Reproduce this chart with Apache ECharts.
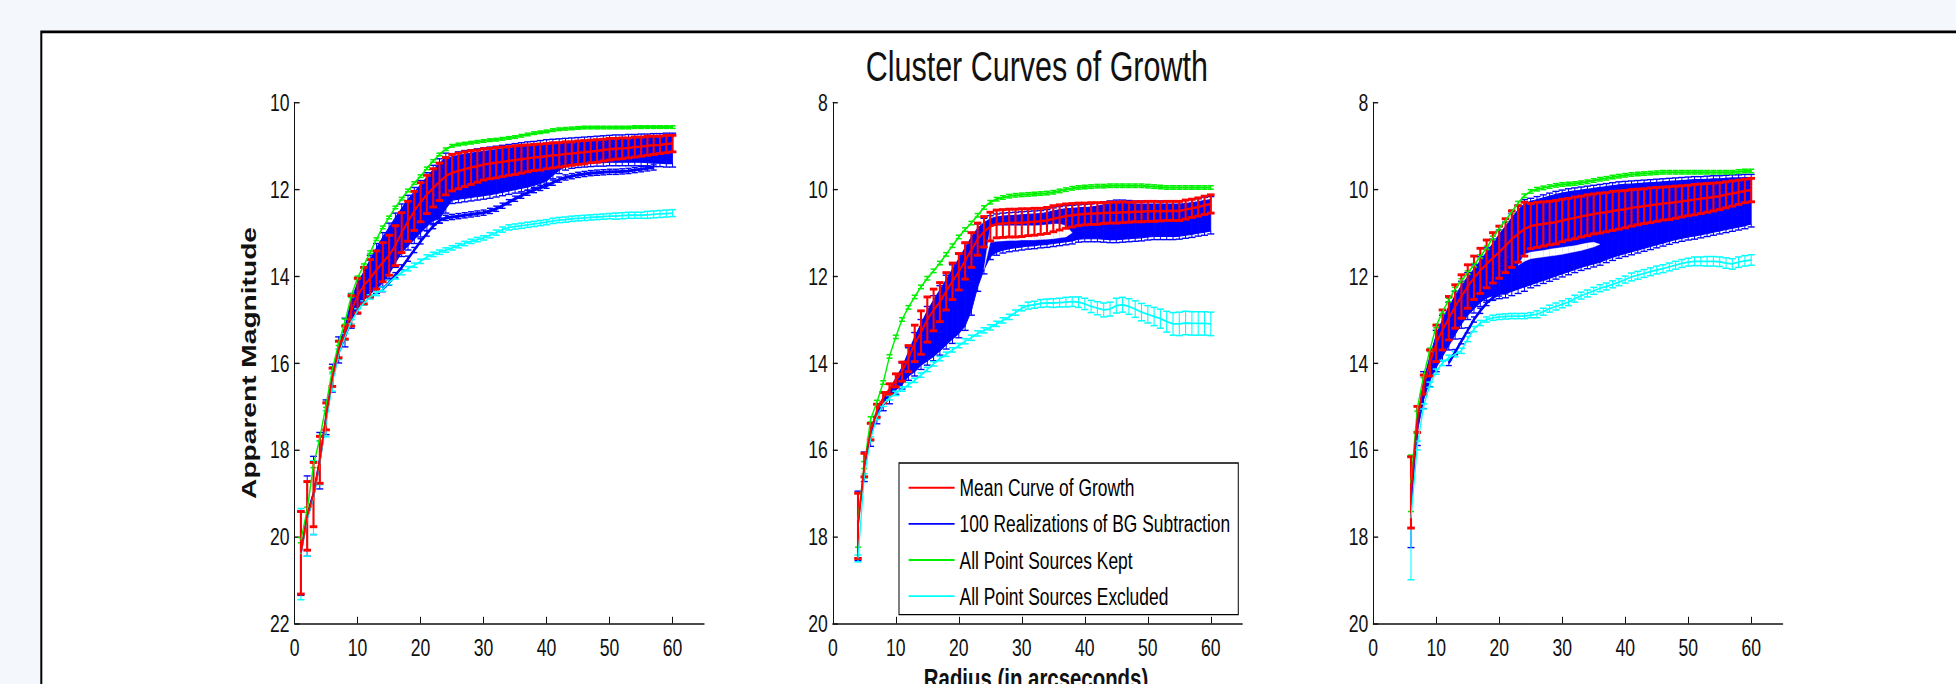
<!DOCTYPE html>
<html><head><meta charset="utf-8">
<script src="https://cdn.jsdelivr.net/npm/echarts@6/dist/echarts.min.js"></script>
<style>
html,body{margin:0;padding:0;background:#f4f7fb;overflow:hidden;width:1956px;height:684px;}
#c{width:1956px;height:496px;transform:scaleY(1.379032);transform-origin:0 0;}
</style></head><body><div id="c"></div>
<script>
// ---------------- DATA ----------------
const X_TICKS = [0,10,20,30,40,50,60];

// Panel 1
const P1_R = [1,2,3,4,5,6,7,8,9,10,11,12,13,14,15,16,17,18,19,20,21,22,23,24,25,26,27,28,29,30,31,32,33,34,35,36,37,38,39,40,41,42,43,44,45,46,47,48,49,50,51,52,53,54,55,56,57,58,59,60];
const P1_MEAN = [20.37,19.52,19.03,18.23,17.23,16.33,15.69,15.3,14.8,14.45,14.22,14.05,13.86,13.68,13.52,13.3,13.0,12.74,12.5,12.3,12.12,11.97,11.83,11.7,11.62,11.58,11.54,11.5,11.47,11.43,11.41,11.39,11.37,11.35,11.33,11.31,11.29,11.27,11.26,11.24,11.22,11.21,11.19,11.18,11.16,11.15,11.13,11.12,11.1,11.08,11.07,11.06,11.05,11.03,11.02,11.0,10.99,10.98,10.96,10.95];
const P1_ERR = [.95,.79,.74,.54,.31,.21,.19,.15,.35,.4,.42,.43,.44,.45,.46,.46,.46,.46,.45,.45,.44,.44,.43,.43,.42,.41,.4,.39,.37,.36,.35,.35,.34,.33,.33,.32,.31,.3,.3,.29,.29,.28,.28,.27,.27,.27,.26,.26,.25,.25,.24,.24,.23,.23,.22,.22,.21,.2,.2,.19];
const P1_GREEN = [20.08,19.38,18.35,17.73,16.96,16.15,15.54,15.05,14.45,14.04,13.75,13.45,13.15,12.88,12.65,12.42,12.22,12.03,11.86,11.7,11.52,11.35,11.2,11.08,11.0,10.97,10.95,10.93,10.91,10.89,10.87,10.86,10.84,10.82,10.8,10.77,10.74,10.71,10.69,10.67,10.64,10.62,10.61,10.6,10.59,10.58,10.58,10.58,10.58,10.58,10.58,10.58,10.58,10.57,10.57,10.57,10.57,10.57,10.57,10.57];
const P1_GREEN_ERR = [.06,.06,.06,.06,.06,.06,.06,.06,.04,.04,.03,.03,.03,.03,.03,.03,.03,.03,.03,.03,.03,.03,.03,.03,.03,.03,.03,.03,.03,.03,.03,.03,.03,.03,.03,.03,.03,.03,.03,.03,.03,.03,.03,.03,.03,.03,.03,.03,.03,.03,.03,.03,.03,.03,.03,.03,.03,.03,.03,.03];
const P1_CYAN = [20.4,19.6,19.1,18.3,17.4,16.45,15.8,15.4,15.05,14.8,14.62,14.48,14.4,14.3,14.15,14.02,13.92,13.83,13.75,13.66,13.56,13.5,13.45,13.4,13.35,13.3,13.25,13.2,13.16,13.12,13.06,13.0,12.93,12.88,12.86,12.84,12.82,12.8,12.78,12.76,12.73,12.71,12.7,12.68,12.67,12.66,12.65,12.64,12.63,12.62,12.62,12.61,12.6,12.6,12.6,12.59,12.58,12.57,12.56,12.55];
const P1_CYAN_ERR = [1.05,.85,.85,.5,.3,.2,.12,.08,.05,.05,.05,.05,.05,.05,.05,.05,.05,.05,.05,.05,.05,.05,.05,.05,.05,.05,.05,.05,.05,.05,.06,.06,.06,.06,.06,.06,.06,.06,.06,.06,.06,.06,.06,.06,.06,.06,.06,.06,.06,.06,.07,.07,.07,.07,.07,.08,.08,.08,.08,.08];
const P1_BLUE_TOP = [20.3,19.45,18.95,18.15,17.15,16.25,15.6,15.15,14.55,14.15,13.9,13.62,13.35,13.1,12.88,12.65,12.44,12.24,12.06,11.9,11.72,11.55,11.4,11.27,11.26,11.22,11.19,11.17,11.15,11.13,11.11,11.09,11.07,11.05,11.03,11.01,10.99,10.98,10.96,10.94,10.93,10.92,10.91,10.9,10.89,10.88,10.87,10.86,10.85,10.84,10.83,10.83,10.82,10.82,10.81,10.81,10.8,10.8,10.79,10.79];
const P1_BLUE_BOT = [20.45,19.6,19.15,18.35,17.35,16.45,15.8,15.45,15.05,14.75,14.55,14.4,14.3,14.15,13.95,13.7,13.45,13.3,13.15,13.0,12.85,12.72,12.68,12.45,12.25,12.23,12.21,12.19,12.17,12.15,12.13,12.1,12.07,12.04,12.01,11.98,11.95,11.91,11.87,11.81,11.68,11.56,11.48,11.44,11.42,11.41,11.4,11.39,11.39,11.38,11.38,11.38,11.38,11.38,11.38,11.39,11.4,11.4,11.41,11.41];
const P1_BLUE_ERR = [.9,.85,.8,.55,.3,.22,.2,.18,.15,.12,.1,.1,.1,.1,.1,.1,.1,.1,.1,.1,.1,.1,.1,.1,.08,.08,.08,.08,.08,.08,.08,.08,.08,.08,.08,.08,.08,.08,.08,.08,.08,.08,.08,.08,.08,.08,.08,.08,.08,.08,.08,.08,.08,.08,.08,.08,.08,.08,.08,.08];
const P1_GAP_TOP = [null,null,null,null,null,null,null,null,null,null,null,null,null,null,null,null,null,null,null,null,null,null,null,null,null,null,null,null,null,null,null,null,null,null,null,null,null,null,null,null,null,null,null,null,null,null,null,null,null,null,null,null,null,null,null,null,null,null,null,null];
const P1_GAP_BOT = P1_GAP_TOP;
const P1_OUTLIER = [null,null,null,null,null,null,null,null,null,null,null,null,null,14.3,14.15,13.98,13.8,13.6,13.4,13.2,13.02,12.85,12.72,12.66,12.64,12.62,12.6,12.58,12.56,12.54,12.5,12.45,12.38,12.3,12.22,12.15,12.08,12.02,11.97,11.92,11.85,11.78,11.73,11.7,11.67,11.65,11.63,11.62,11.61,11.6,11.6,11.59,11.58,11.56,11.54,11.52,11.5,null,null,null];

// Panel 2
const P2_R = [4,5,6,7,8,9,10,11,12,13,14,15,16,17,18,19,20,21,22,23,24,25,26,27,28,29,30,31,32,33,34,35,36,37,38,39,40,41,42,43,44,45,46,47,48,49,50,51,52,53,54,55,56,57,58,59,60];
const P2_MEAN = [17.75,16.35,15.58,15.1,14.8,14.6,14.4,14.2,13.9,13.55,13.3,13.0,12.78,12.6,12.35,12.12,11.9,11.65,11.4,11.15,10.98,10.86,10.8,10.79,10.78,10.78,10.77,10.76,10.75,10.74,10.72,10.68,10.65,10.62,10.6,10.58,10.57,10.56,10.56,10.55,10.54,10.54,10.53,10.53,10.52,10.52,10.51,10.51,10.51,10.5,10.5,10.5,10.47,10.44,10.41,10.37,10.34];
const P2_ERR = [.75,.27,.19,.15,.12,.12,.15,.22,.3,.42,.5,.52,.48,.45,.43,.42,.42,.42,.4,.37,.35,.33,.32,.32,.32,.32,.32,.31,.31,.3,.3,.3,.29,.28,.27,.26,.25,.25,.25,.24,.24,.24,.24,.23,.23,.23,.23,.23,.22,.22,.22,.22,.22,.21,.21,.21,.21];
const P2_GREEN = [17.62,16.35,15.3,14.9,14.45,13.85,13.4,13.0,12.72,12.48,12.25,12.05,11.88,11.7,11.5,11.3,11.1,10.93,10.78,10.6,10.42,10.3,10.23,10.19,10.16,10.14,10.13,10.12,10.11,10.1,10.09,10.07,10.04,10.01,9.98,9.96,9.95,9.94,9.93,9.93,9.92,9.92,9.92,9.92,9.92,9.92,9.93,9.94,9.95,9.96,9.96,9.96,9.96,9.96,9.96,9.96,9.96];
const P2_GREEN_ERR = [.62,.08,.06,.04,.04,.04,.04,.04,.04,.04,.04,.04,.04,.04,.04,.04,.04,.04,.04,.04,.04,.04,.04,.04,.04,.04,.04,.04,.04,.04,.04,.04,.04,.04,.04,.04,.04,.04,.04,.04,.04,.04,.04,.04,.04,.04,.04,.04,.04,.04,.04,.04,.04,.04,.04,.04,.04];
const P2_CYAN = [18.5,16.6,15.75,15.25,14.95,14.8,14.7,14.6,14.5,14.4,14.28,14.15,14.02,13.9,13.8,13.7,13.6,13.5,13.42,13.32,13.25,13.18,13.1,13.02,12.94,12.84,12.74,12.68,12.66,12.63,12.62,12.62,12.61,12.6,12.59,12.6,12.64,12.7,12.74,12.78,12.76,12.68,12.66,12.7,12.76,12.83,12.88,12.93,12.98,13.05,13.1,13.1,13.08,13.09,13.09,13.09,13.1];
const P2_CYAN_ERR = [.08,.05,.05,.05,.05,.05,.05,.05,.05,.05,.05,.05,.05,.05,.05,.05,.05,.06,.06,.06,.06,.06,.06,.06,.06,.06,.06,.08,.08,.09,.09,.1,.1,.11,.11,.12,.13,.14,.15,.16,.16,.17,.17,.18,.19,.2,.2,.21,.22,.24,.26,.27,.27,.27,.27,.27,.27];
const P2_BLUE_TOP = [17.7,16.33,15.58,15.1,14.8,14.6,14.35,14.1,13.75,13.4,13.1,12.8,12.55,12.32,12.08,11.84,11.6,11.35,11.1,10.9,10.77,10.68,10.64,10.62,10.61,10.6,10.59,10.58,10.57,10.56,10.54,10.5,10.47,10.45,10.44,10.43,10.42,10.41,10.39,10.36,10.34,10.32,10.32,10.33,10.34,10.34,10.34,10.34,10.34,10.34,10.34,10.34,10.33,10.31,10.29,10.26,10.24];
const P2_BLUE_BOT = [17.8,16.45,15.72,15.25,14.98,14.82,14.62,14.5,14.3,14.2,14.05,13.95,13.85,13.72,13.58,13.45,13.32,13.15,12.8,12.25,11.85,11.55,11.45,11.4,11.37,11.35,11.33,11.31,11.3,11.28,11.27,11.25,11.23,11.21,11.19,11.15,11.14,11.14,11.14,11.15,11.16,11.16,11.15,11.14,11.13,11.12,11.1,11.09,11.09,11.09,11.09,11.08,11.06,11.04,11.01,10.99,10.96];
const P2_BLUE_ERR = [.75,.28,.2,.15,.12,.12,.1,.1,.1,.1,.1,.1,.1,.1,.1,.1,.1,.1,.1,.1,.1,.07,.07,.07,.07,.07,.07,.07,.07,.07,.07,.07,.07,.07,.07,.07,.07,.07,.07,.07,.07,.07,.07,.07,.07,.07,.07,.07,.07,.07,.07,.07,.07,.07,.07,.07,.07];
const P2_GAP_TOP = [null,null,null,null,null,null,null,null,null,null,null,null,null,null,null,null,null,null,null,null,11.85,10.86,10.84,10.84,10.84,10.84,10.84,10.84,10.84,10.83,10.82,10.8,10.8,10.84,11.0,null,null,null,null,null,null,null,null,null,null,null,null,null,null,null,null,null,null,null,null,null,null];
const P2_GAP_BOT = [null,null,null,null,null,null,null,null,null,null,null,null,null,null,null,null,null,null,null,null,11.85,11.22,11.2,11.19,11.18,11.18,11.17,11.17,11.17,11.16,11.15,11.14,11.12,11.1,11.0,null,null,null,null,null,null,null,null,null,null,null,null,null,null,null,null,null,null,null,null,null,null];
const P2_OUTLIER = [];

// Panel 3
const P3_R = [6,7,8,9,10,11,12,13,14,15,16,17,18,19,20,21,22,23,24,25,26,27,28,29,30,31,32,33,34,35,36,37,38,39,40,41,42,43,44,45,46,47,48,49,50,51,52,53,54,55,56,57,58,59,60];
const P3_MEAN = [16.98,15.3,14.5,14.0,13.55,13.24,12.97,12.7,12.47,12.24,12.04,11.88,11.72,11.58,11.45,11.3,11.15,11.03,10.92,10.85,10.82,10.8,10.78,10.76,10.72,10.69,10.66,10.63,10.6,10.57,10.55,10.53,10.5,10.48,10.46,10.43,10.41,10.39,10.37,10.35,10.33,10.32,10.3,10.28,10.26,10.24,10.22,10.2,10.18,10.16,10.13,10.1,10.07,10.04,10.02];
const P3_ERR = [.82,.3,.22,.3,.42,.46,.5,.5,.5,.5,.5,.52,.55,.58,.6,.62,.65,.65,.62,.52,.52,.51,.5,.5,.49,.48,.48,.47,.47,.46,.46,.45,.45,.44,.43,.42,.41,.4,.4,.39,.38,.38,.37,.36,.35,.35,.34,.33,.32,.31,.3,.29,.28,.27,.27];
const P3_GREEN = [16.77,15.05,14.3,13.7,13.15,12.82,12.55,12.3,12.1,11.92,11.75,11.55,11.35,11.12,10.9,10.72,10.52,10.32,10.15,10.05,10.0,9.97,9.94,9.91,9.89,9.88,9.87,9.85,9.83,9.8,9.77,9.75,9.72,9.7,9.68,9.66,9.65,9.64,9.63,9.62,9.61,9.61,9.61,9.61,9.61,9.61,9.61,9.61,9.61,9.61,9.61,9.61,9.59,9.58,9.58];
const P3_GREEN_ERR = [.65,.06,.04,.04,.04,.04,.04,.04,.04,.04,.04,.04,.04,.04,.04,.04,.04,.04,.04,.04,.04,.04,.04,.04,.04,.04,.04,.04,.04,.04,.04,.04,.04,.04,.04,.04,.04,.04,.04,.04,.04,.04,.04,.04,.04,.04,.04,.04,.04,.04,.04,.04,.04,.04,.04];
const P3_CYAN = [17.57,15.9,15.0,14.5,14.2,14.0,13.88,13.8,13.72,13.45,13.22,13.08,13.0,12.96,12.94,12.93,12.92,12.92,12.92,12.9,12.88,12.82,12.75,12.7,12.65,12.6,12.52,12.45,12.4,12.34,12.28,12.24,12.19,12.14,12.08,12.02,11.98,11.94,11.9,11.86,11.83,11.79,11.75,11.71,11.68,11.66,11.66,11.66,11.66,11.67,11.7,11.72,11.68,11.65,11.63];
const P3_CYAN_ERR = [1.42,.1,.06,.06,.06,.06,.06,.06,.06,.06,.06,.06,.06,.06,.06,.06,.06,.06,.06,.06,.08,.08,.08,.08,.08,.08,.08,.08,.08,.08,.08,.08,.08,.08,.08,.09,.09,.09,.09,.09,.09,.09,.09,.09,.09,.1,.1,.11,.11,.11,.12,.12,.12,.12,.12];
const P3_BLUE_TOP = [17.0,15.3,14.4,13.85,13.35,13.0,12.7,12.45,12.22,12.02,11.84,11.65,11.45,11.25,11.04,10.86,10.66,10.48,10.34,10.28,10.24,10.2,10.16,10.12,10.09,10.06,10.04,10.02,10.0,9.98,9.96,9.94,9.92,9.9,9.89,9.88,9.87,9.86,9.85,9.84,9.83,9.82,9.81,9.8,9.79,9.78,9.78,9.77,9.76,9.76,9.75,9.74,9.74,9.73,9.73];
const P3_BLUE_BOT = [17.4,15.6,14.85,14.4,14.1,13.85,13.6,13.35,13.1,12.9,12.75,12.6,12.5,12.45,12.42,12.4,12.35,12.3,12.25,12.2,12.15,12.1,12.05,12.0,11.95,11.9,11.85,11.8,11.76,11.72,11.68,11.62,11.57,11.52,11.48,11.44,11.4,11.36,11.32,11.28,11.24,11.2,11.16,11.13,11.1,11.08,11.05,11.02,10.99,10.96,10.93,10.9,10.87,10.84,10.8];
const P3_BLUE_ERR = [.85,.3,.2,.15,.1,.1,.1,.1,.1,.1,.1,.1,.1,.1,.1,.1,.1,.1,.1,.07,.07,.07,.07,.07,.07,.07,.07,.07,.07,.07,.07,.07,.07,.07,.07,.07,.07,.07,.07,.07,.07,.07,.07,.07,.07,.07,.07,.07,.07,.07,.07,.07,.07,.07,.07];
const P3_GAP_TOP = [null,null,null,null,null,null,null,null,null,null,null,null,null,null,null,null,null,11.75,11.5,11.45,11.43,11.41,11.38,11.36,11.34,11.32,11.3,11.27,11.24,11.22,11.27,null,null,null,null,null,null,null,null,null,null,null,null,null,null,null,null,null,null,null,null,null,null,null,null];
const P3_GAP_BOT = [null,null,null,null,null,null,null,null,null,null,null,null,null,null,null,null,null,11.75,11.66,11.6,11.58,11.56,11.54,11.52,11.5,11.47,11.44,11.41,11.37,11.33,11.27,null,null,null,null,null,null,null,null,null,null,null,null,null,null,null,null,null,null,null,null,null,null,null,null];
const P3_OUTLIER = [null,null,null,null,null,null,14.0,13.75,13.5,13.25,13.0,12.8,12.62,12.5,12.4,12.35,null,null,null,null,null,null,null,null,null,null,null,null,null,null,null,null,null,null,null,null,null,null,null,null,null,null,null,null,null,null,null,null,null,null,null,null,null,null,null];

const LEGEND_NAMES = ['Mean Curve of Growth','100 Realizations of BG Subtraction','All Point Sources Kept','All Point Sources Excluded'];
const TITLE = 'Cluster Curves of Growth';
const Y_NAME = 'Apparent Magnitude';
const X_NAME = 'Radius (in arcseconds)';

// ---------------- LAYOUT / STYLE ----------------
const FONT = '"Liberation Sans", Arial, Helvetica, sans-serif';
const RED = '#ff0000', BLUE = '#0000ff', GREEN = '#00f000', CYAN = '#00ffff';
const GRID_LEFT = [294.6, 832.8, 1373.2];
const GRID_TOP = 74.2, GRID_W = 409.5, GRID_H = 378;

const PANELS = [
  {R:P1_R, mean:P1_MEAN, err:P1_ERR, green:P1_GREEN, gerr:P1_GREEN_ERR, cyan:P1_CYAN, cerr:P1_CYAN_ERR, bt:P1_BLUE_TOP, bb:P1_BLUE_BOT, be:P1_BLUE_ERR, gt:P1_GAP_TOP, gb:P1_GAP_BOT, out:P1_OUTLIER, ymin:10, ymax:22},
  {R:P2_R, mean:P2_MEAN, err:P2_ERR, green:P2_GREEN, gerr:P2_GREEN_ERR, cyan:P2_CYAN, cerr:P2_CYAN_ERR, bt:P2_BLUE_TOP, bb:P2_BLUE_BOT, be:P2_BLUE_ERR, gt:P2_GAP_TOP, gb:P2_GAP_BOT, out:P2_OUTLIER, ymin:8, ymax:20},
  {R:P3_R, mean:P3_MEAN, err:P3_ERR, green:P3_GREEN, gerr:P3_GREEN_ERR, cyan:P3_CYAN, cerr:P3_CYAN_ERR, bt:P3_BLUE_TOP, bb:P3_BLUE_BOT, be:P3_BLUE_ERR, gt:P3_GAP_TOP, gb:P3_GAP_BOT, out:P3_OUTLIER, ymin:8, ymax:20}
];

PANELS.forEach((P, i) => {
  ['mean','err','green','gerr','cyan','cerr','bt','bb','be','gt','gb'].forEach(k => {
    if (P[k].length !== P.R.length) throw new Error('Panel ' + (i+1) + ' ' + k + ' length ' + P[k].length + ' vs ' + P.R.length);
  });
  if (P.out.length && P.out.length !== P.R.length) throw new Error('Panel ' + (i+1) + ' outlier length');
});

function errBar(color, lw, cap) {
  return function (params, api) {
    const x = api.value(0);
    const p = api.coord([x, api.value(1)]), q = api.coord([x, api.value(2)]);
    const st = {stroke: color, lineWidth: lw};
    return {type: 'group', children: [
      {type: 'line', shape: {x1: p[0], y1: p[1], x2: q[0], y2: q[1]}, style: st},
      {type: 'line', shape: {x1: p[0]-cap, y1: p[1], x2: p[0]+cap, y2: p[1]}, style: st},
      {type: 'line', shape: {x1: q[0]-cap, y1: q[1], x2: q[0]+cap, y2: q[1]}, style: st}
    ]};
  };
}
function edgeBar(color, lw, cap) {
  return function (params, api) {
    const x = api.value(0);
    const a = api.coord([x, api.value(1)]), b = api.coord([x, api.value(2)]);
    const c = api.coord([x, api.value(3)]), d = api.coord([x, api.value(4)]);
    const st = {stroke: color, lineWidth: lw};
    return {type: 'group', children: [
      {type: 'line', shape: {x1: a[0], y1: a[1], x2: b[0], y2: b[1]}, style: st},
      {type: 'line', shape: {x1: a[0]-cap, y1: a[1], x2: a[0]+cap, y2: a[1]}, style: st},
      {type: 'line', shape: {x1: c[0], y1: c[1], x2: d[0], y2: d[1]}, style: st},
      {type: 'line', shape: {x1: d[0]-cap, y1: d[1], x2: d[0]+cap, y2: d[1]}, style: st}
    ]};
  };
}
function bandPoly(color, strokeW) {
  return function (params, api) {
    const p1 = api.coord([api.value(0), api.value(1)]);
    const p2 = api.coord([api.value(3), api.value(4)]);
    const p3 = api.coord([api.value(3), api.value(5)]);
    const p4 = api.coord([api.value(0), api.value(2)]);
    return {type: 'polygon', shape: {points: [p1, p2, p3, p4]}, style: {fill: color, stroke: color, lineWidth: strokeW}};
  };
}
function bandData(R, T, B) {
  const out = [];
  for (let k = 0; k < R.length - 1; k++) {
    if (T[k] == null || T[k+1] == null || B[k] == null || B[k+1] == null) continue;
    out.push([R[k], T[k], B[k], R[k+1], T[k+1], B[k+1]]);
  }
  return out;
}

const grids = [], xAxes = [], yAxes = [], series = [];
PANELS.forEach((P, i) => {
  grids.push({left: GRID_LEFT[i], top: GRID_TOP, width: GRID_W, height: GRID_H, containLabel: false});
  xAxes.push({
    gridIndex: i, type: 'value', min: 0, max: 65, interval: 10,
    axisLine: {show: true, onZero: false, lineStyle: {color: '#111', width: 1}},
    axisTick: {show: true, inside: true, length: 5, lineStyle: {color: '#111'}, customValues: X_TICKS},
    axisLabel: {show: true, customValues: X_TICKS, color: '#111', fontSize: 17.6, fontFamily: FONT, margin: 8},
    splitLine: {show: false}
  });
  yAxes.push({
    gridIndex: i, type: 'value', inverse: true, min: P.ymin, max: P.ymax, interval: 2,
    axisLine: {show: true, onZero: false, lineStyle: {color: '#111', width: 1}},
    axisTick: {show: true, inside: true, length: 5, lineStyle: {color: '#111'}},
    axisLabel: {color: '#111', fontSize: 17.6, fontFamily: FONT, margin: 5},
    splitLine: {show: false}
  });
  const ax = {xAxisIndex: i, yAxisIndex: i, silent: true, animation: false};
  // blue realizations: filled envelope
  series.push(Object.assign({type: 'custom', name: LEGEND_NAMES[1], itemStyle: {color: BLUE}, renderItem: bandPoly(BLUE, 0.8), data: bandData(P.R, P.bt, P.bb), encode: {x: 0, y: 1}}, ax));
  // white gaps between realization families
  const gaps = bandData(P.R, P.gt, P.gb);
  if (gaps.length) series.push(Object.assign({type: 'custom', renderItem: bandPoly('#ffffff', 0.3), data: gaps, encode: {x: 0, y: 1}}, ax));
  // blue error bar tips at the envelope edges
  series.push(Object.assign({type: 'custom', renderItem: edgeBar(BLUE, 1, 3.5), encode: {x: 0, y: 1},
    data: P.R.map((r, k) => [r, P.bt[k] - P.be[k], P.bt[k], P.bb[k], P.bb[k] + P.be[k]])}, ax));
  // blue outlier realization
  if (P.out.length) {
    const od = [];
    P.R.forEach((r, k) => { if (P.out[k] != null) od.push([r, P.out[k]]); });
    series.push(Object.assign({type: 'line', data: od, symbol: 'none', lineStyle: {color: BLUE, width: 2.2}, itemStyle: {color: BLUE}}, ax));
    series.push(Object.assign({type: 'custom', renderItem: errBar(BLUE, 1, 3), encode: {x: 0, y: 1},
      data: od.map(d => [d[0], d[1] - 0.06, d[1] + 0.06])}, ax));
  }
  // cyan: all point sources excluded
  series.push(Object.assign({type: 'custom', renderItem: errBar(CYAN, 1.1, 3.5), encode: {x: 0, y: 1},
    data: P.R.map((r, k) => [r, P.cyan[k] - P.cerr[k], P.cyan[k] + P.cerr[k]])}, ax));
  series.push(Object.assign({type: 'line', name: LEGEND_NAMES[3], data: P.R.map((r, k) => [r, P.cyan[k]]), symbol: 'none', lineStyle: {color: CYAN, width: 1.3}, itemStyle: {color: CYAN}}, ax));
  // green: all point sources kept
  series.push(Object.assign({type: 'custom', renderItem: errBar(GREEN, 1.1, 3), encode: {x: 0, y: 1},
    data: P.R.map((r, k) => [r, P.green[k] - P.gerr[k], P.green[k] + P.gerr[k]])}, ax));
  series.push(Object.assign({type: 'line', name: LEGEND_NAMES[2], data: P.R.map((r, k) => [r, P.green[k]]), symbol: 'none', lineStyle: {color: GREEN, width: 1.4}, itemStyle: {color: GREEN}}, ax));
  // red: mean curve of growth
  series.push(Object.assign({type: 'custom', renderItem: errBar(RED, 2.1, 3.8), encode: {x: 0, y: 1},
    data: P.R.map((r, k) => [r, P.mean[k] - P.err[k], P.mean[k] + P.err[k]])}, ax));
  series.push(Object.assign({type: 'line', name: LEGEND_NAMES[0], data: P.R.map((r, k) => [r, P.mean[k]]), symbol: 'none', lineStyle: {color: RED, width: 1.8}, itemStyle: {color: RED}}, ax));
});

const chart = echarts.init(document.getElementById('c'), null, {renderer: 'svg'});
chart.setOption({
  animation: false,
  backgroundColor: 'transparent',
  grid: grids, xAxis: xAxes, yAxis: yAxes, series: series,
  legend: {
    orient: 'vertical', left: 899, top: 335.7,
    itemWidth: 46, itemHeight: 1.4, itemGap: 8.2,
    padding: [9, 8, 4.4, 9.6],
    borderColor: '#000', borderWidth: 1, backgroundColor: '#fff',
    selectedMode: false,
    textStyle: {fontSize: 17.4, fontFamily: FONT, color: '#000', lineHeight: 18},
    data: [
      {name: LEGEND_NAMES[0], icon: 'rect', itemStyle: {color: RED}},
      {name: LEGEND_NAMES[1], icon: 'rect', itemStyle: {color: BLUE}},
      {name: LEGEND_NAMES[2], icon: 'rect', itemStyle: {color: GREEN}},
      {name: LEGEND_NAMES[3], icon: 'rect', itemStyle: {color: CYAN}}
    ]
  },
  graphic: [
    {type: 'rect', z: -10, silent: true, shape: {x: 41.3, y: 23.1, width: 2100, height: 1000}, style: {fill: '#ffffff', stroke: '#000', lineWidth: 2}},
    {type: 'text', silent: true, x: 1036.8, y: 48, style: {text: TITLE, fontSize: 30.5, fontFamily: FONT, fill: '#111', align: 'center', verticalAlign: 'middle', textAlign: 'center', textVerticalAlign: 'middle'}},
    {type: 'text', silent: true, x: 248.5, y: 263.2, rotation: Math.PI / 2, style: {text: Y_NAME, fontSize: 20.4, fontWeight: 'bold', fontFamily: FONT, fill: '#111', align: 'center', verticalAlign: 'middle', textAlign: 'center', textVerticalAlign: 'middle'}},
    {type: 'text', silent: true, x: 1036, y: 491.5, style: {text: X_NAME, fontSize: 20.4, fontWeight: 'bold', fontFamily: FONT, fill: '#111', align: 'center', verticalAlign: 'middle', textAlign: 'center', textVerticalAlign: 'middle'}}
  ]
});
</script></body></html>
